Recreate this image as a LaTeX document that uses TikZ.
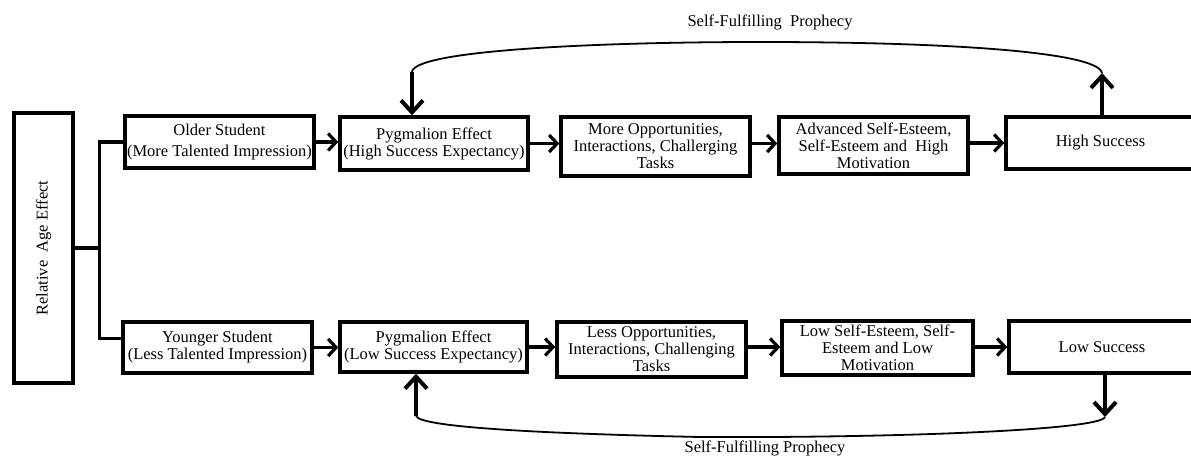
\documentclass[tikz,border=0pt]{standalone}
\usepackage{fontspec}
\usepackage{graphicx}
\setmainfont{Liberation Serif}
\usetikzlibrary{arrows.meta}

\tikzset{
  box/.style={draw, line width=3.4pt, align=center, inner sep=0pt,
    font=\fontsize{16.5}{17}\selectfont},
  flow/.style={line width=3.2pt, -{Straight Barb[length=8pt,width=17pt]}},
  loopline/.style={line width=1.8pt},
  loopend/.style={line width=4pt, -{Straight Barb[length=12pt,width=22pt]}},
  looplabel/.style={font=\fontsize{16.5}{17}\selectfont},
}

\begin{document}
\begin{tikzpicture}[x=1pt,y=-1pt]
  \useasboundingbox (0,0) rectangle (1191,458);
  \clip (0,0) rectangle (1191,458);

  % root
  \node[box, minimum width=59, minimum height=270] (rae) at (43.5,248)
    {\rotatebox{90}{Relative \ Age Effect}};

  % upper row
  \node[box, minimum width=189, minimum height=52] (older) at (219.5,142)
    {Older Student\\[4pt](More Talented Impression)};
  \node[box, minimum width=188, minimum height=53] (pygHigh) at (434,143.5)
    {Pygmalion Effect\\(High Success Expectancy)};
  \node[box, minimum width=189, minimum height=59] (moreOpp) at (655.5,146.5)
    {More Opportunities,\\Interactions, Challerging\\Tasks};
  \node[box, minimum width=189, minimum height=57] (advEsteem) at (873.5,145.5)
    {Advanced Self-Esteem,\\Self-Esteem and \ High\\Motivation};
  \node[box, minimum width=189, minimum height=52] (high) at (1100.5,143)
    {High Success};

  % lower row
  \node[box, minimum width=189, minimum height=51] (younger) at (217.5,347.5)
    {Younger Student\\(Less Talented Impression)};
  \node[box, minimum width=187, minimum height=50] (pygLow) at (433.5,347)
    {Pygmalion Effect\\(Low Success Expectancy)};
  \node[box, minimum width=189, minimum height=55] (lessOpp) at (651.5,349.5)
    {Less Opportunities,\\Interactions, Challenging\\Tasks};
  \node[box, minimum width=191, minimum height=54] (lowEsteem) at (877.5,348)
    {Low Self-Esteem, Self-\\Esteem and Low\\Motivation};
  \node[box, minimum width=186, minimum height=52] (low) at (1102,347)
    {Low Success};

  % branch from the root
  \draw[line width=3.2pt] (rae.east) -- ++(25,0) coordinate (fork);
  \draw[line width=3.2pt] (older.west) -| (fork) |- ([yshift=9pt]younger.west);

  % flow along each row
  \draw[flow] (older.east) -- (older.east -| pygHigh.west);
  \draw[flow] (pygHigh.east) -- (pygHigh.east -| moreOpp.west);
  \draw[flow] (moreOpp.east |- pygHigh.east) -- (pygHigh.east -| advEsteem.west);
  \draw[flow] (advEsteem.east |- high.west) -- (high.west);
  \draw[flow] (younger.east) -- (younger.east -| pygLow.west);
  \draw[flow] (pygLow.east) -- (pygLow.east -| lessOpp.west);
  \draw[flow] (lessOpp.east |- pygLow.east) -- (pygLow.east -| lowEsteem.west);
  \draw[flow] (lowEsteem.east |- low.west) -- (low.west);

  % self-fulfilling loop, top
  \coordinate (topL) at (412,72);
  \coordinate (topR) at (1102,73);
  \draw[loopline] (topL) .. controls (414,50) and (600,42) .. (760,42)
    .. controls (950,42) and (1098,52) .. (topR);
  \draw[loopend] (topL) -- (topL |- pygHigh.north);
  \draw[loopend] (high.north -| topR) -- (topR);
  \node[looplabel] (topLabel) at (770,22) {Self-Fulfilling \ Prophecy};

  % self-fulfilling loop, bottom
  \coordinate (botL) at (416,416);
  \coordinate (botR) at (1105,417);
  \draw[loopline] (botL) .. controls (420,428) and (560,434) .. (700,437)
    .. controls (900,438) and (1100,430) .. (botR);
  \draw[loopend] (botL) -- (botL |- pygLow.south);
  \draw[loopend] (low.south -| botR) -- (botR);
  \node[looplabel] (botLabel) at (765,448) {Self-Fulfilling Prophecy};
\end{tikzpicture}
\end{document}
